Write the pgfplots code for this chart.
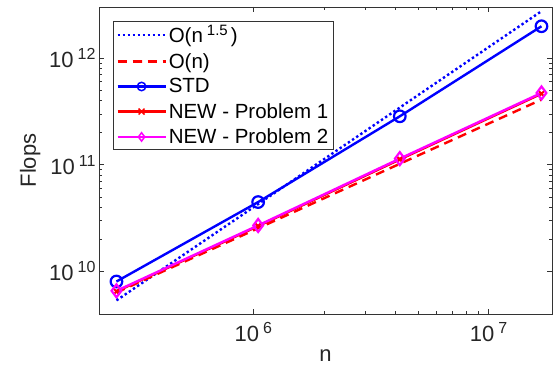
\documentclass[border=0pt]{standalone}
\usepackage{pgfplots}
\pgfplotsset{compat=1.18}
\usepackage{fontspec}
\setmainfont{Liberation Sans}
\newcommand{\tlab}[1]{10\hspace{4pt}\raisebox{8pt}{\fontsize{16}{16}\selectfont #1}}
\begin{document}
\begin{tikzpicture}
\begin{axis}[
  scale only axis,
  width=453pt, height=307pt,
  xmode=log, ymode=log,
  xmin=2.21e5, xmax=1.86e7,
  ymin=4.0e9, ymax=3.0e12,
  axis line style={draw=black!80, line width=0.6pt},
  tick style={draw=black!80, line width=0.5pt},
  major tick length=5pt, minor tick length=3pt,
  tick align=inside,
  xtick={1e6,1e7},
  xticklabels={\tlab{6},\tlab{7}},
  ytick={1e10,1e11,1e12},
  yticklabels={\tlab{10},\tlab{11},\tlab{12}},
  ticklabel style={font=\fontsize{22}{24}\selectfont, text=black!85},
  xticklabel style={yshift=-5pt},
  xlabel={n}, ylabel={Flops},
  label style={font=\fontsize{22}{24}\selectfont, text=black!85},
  xlabel style={yshift=-1pt},
  ylabel style={yshift=2pt},
  legend style={at={(0.031,0.954)}, anchor=north west, draw=black!80, line width=0.6pt,
    font=\fontsize{20.5}{22}\selectfont, inner xsep=3pt, inner ysep=2pt,
    row sep=5pt, text=black},
  legend cell align=left,
  legend image code/.code={\draw[mark repeat=2,mark phase=2, mark size=4.2pt, every mark/.append style={line width=1.5pt}] plot coordinates {(0pt,0pt) (24pt,0pt) (48pt,0pt)};},
]
\addplot[blue, line width=2.4pt, dash pattern=on 2.4pt off 2.6pt, mark=none] coordinates {
 (262144,5.36e9) (1048576,4.28e10) (4194304,3.43e11) (16777216,2.74e12)};
\addlegendentry{O(n\hspace{4pt}\raisebox{7pt}{\fontsize{15}{15}\selectfont 1.5}\hspace{3pt})}
\addplot[red, line width=2.4pt, dash pattern=on 9pt off 6pt, mark=none] coordinates {
 (262144,6.36e9) (1048576,2.54e10) (4194304,1.02e11) (16777216,4.07e11)};
\addlegendentry{O(n)}
\addplot[blue, line width=2.4pt, mark=o, mark size=5.8pt, mark options={solid, line width=2.2pt}] coordinates {
 (262144,8.06e9) (1048576,4.47e10) (4194304,2.84e11) (16777216,1.98e12)};
\addlegendentry{STD}
\addplot[red, line width=2.4pt, mark=x, mark size=3.5pt, mark options={solid, line width=2pt}] coordinates {
 (262144,6.5e9) (1048576,2.66e10) (4194304,1.12e11) (16777216,4.62e11)};
\addlegendentry{NEW - Problem 1}
\addplot[color={rgb,1:red,1;green,0;blue,1}, line width=2.4pt, mark=diamond, mark size=6.5pt, mark options={solid, line width=2.2pt}] coordinates {
 (262144,6.59e9) (1048576,2.70e10) (4194304,1.14e11) (16777216,4.70e11)};
\addlegendentry{NEW - Problem 2}
\end{axis}
\pgfresetboundingbox
\path[use as bounding box] (current axis.south west) ++(-99pt,-65pt) rectangle ([shift={(1pt,7pt)}]current axis.north east);
\end{tikzpicture}
\end{document}
